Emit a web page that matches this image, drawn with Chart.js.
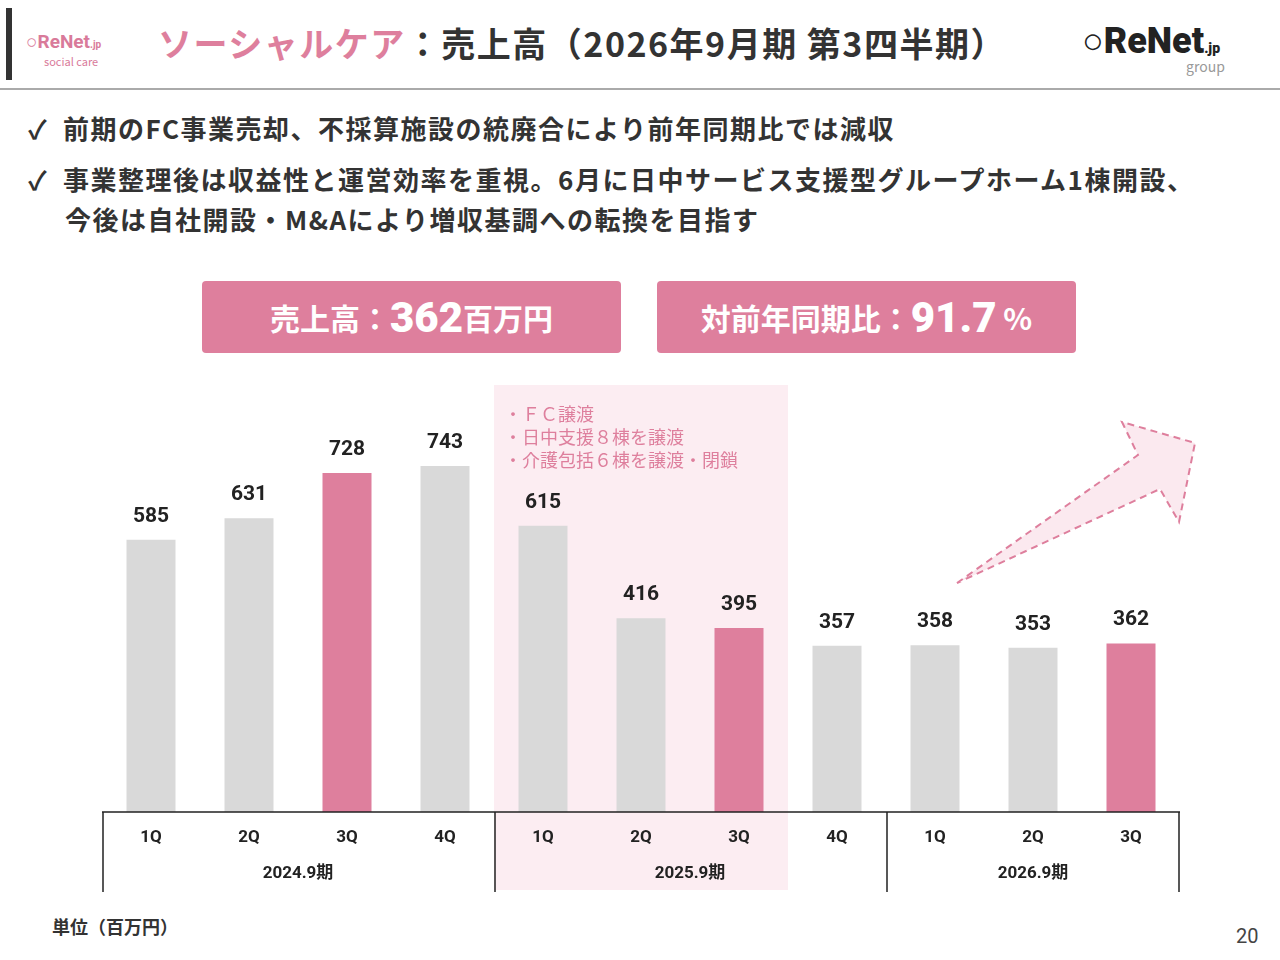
<!DOCTYPE html>
<html><head><meta charset="utf-8">
<script src="https://cdn.jsdelivr.net/npm/chart.js@4"></script>
<style>
body{margin:0;width:1280px;height:960px;position:relative;background:#fff;font-family:"Noto Sans CJK JP","Noto Sans",sans-serif;color:#333;overflow:hidden}
.abs{position:absolute}
.box{position:absolute;top:281px;height:72px;background:#de7f9d;border-radius:4px;color:#fff;font-weight:bold;font-size:30px;display:flex;align-items:center;justify-content:center}
.box b{font-family:Roboto,sans-serif;font-size:42px}
.bul{position:absolute;left:28px;font-size:26px;font-weight:bold;line-height:40px;letter-spacing:1.5px;white-space:nowrap}
</style></head><body>
<div class="abs" style="left:6px;top:8px;width:6px;height:72px;background:#333"></div>
<div class="abs" style="left:26px;top:30px;font-family:Roboto;font-weight:bold;color:#d97a9a;font-size:19px">&#x25CB;ReNet<span style="font-size:10px">.jp</span></div>
<div class="abs" style="left:44px;top:53px;color:#d97a9a;font-size:11px">social care</div>
<div class="abs" style="left:158px;top:18px;font-size:34px;font-weight:bold;white-space:nowrap;letter-spacing:1.5px"><span style="color:#de7f9d">ソーシャルケア</span>：売上高（2026年9月期 第3四半期）</div>
<div class="abs" style="left:1082px;top:20px;font-family:Roboto;font-weight:900;font-size:36px;color:#222">&#x25CB;ReNet<span style="font-size:14px">.jp</span></div>
<div class="abs" style="left:1186px;top:56px;font-size:14px;color:#999">group</div>
<div class="abs" style="left:0;top:88px;width:1280px;height:2px;background:#aaa"></div>
<div class="bul" style="top:108px">✓&nbsp;&nbsp;前期のFC事業売却、不採算施設の統廃合により前年同期比では減収</div>
<div class="bul" style="top:159px">✓&nbsp;&nbsp;事業整理後は収益性と運営効率を重視。6月に日中サービス支援型グループホーム1棟開設、<br>&nbsp;&nbsp;&nbsp;&nbsp;&nbsp;今後は自社開設・M&amp;Aにより増収基調への転換を目指す</div>
<div class="box" style="left:202px;width:419px">売上高：<b>362</b>百万円</div>
<div class="box" style="left:657px;width:419px">対前年同期比：<b>91.7</b>&nbsp;%</div>
<div class="abs" style="left:52px;top:913px;font-size:18px;font-weight:bold">単位（百万円）</div>
<div class="abs" style="left:1236px;top:924px;font-size:20px;font-family:Roboto;color:#444">20</div>
<svg class="abs" style="left:0;top:0" width="1280" height="960">
<polygon points="957,583 1138,455 1122,422 1195,443 1179,522 1160,489" fill="#fbe9ef" stroke="#de7f9d" stroke-width="2" stroke-dasharray="7,5"/>
</svg>
<div class="abs" style="left:102px;top:380px;width:1078px;height:512px"><canvas id="c"></canvas></div>
<script>
const quarters=['1Q','2Q','3Q','4Q','1Q','2Q','3Q','4Q','1Q','2Q','3Q'];
const sales=[585,631,728,743,615,416,395,357,358,353,362];
const highlight=[2,6,10];
const periods=['2024.9期','2025.9期','2026.9期'];
const notes=['・ＦＣ譲渡','・日中支援８棟を譲渡','・介護包括６棟を譲渡・閉鎖'];
const pink='#de7f9d', grey='#d9d9d9';
const deco={id:'deco',
 beforeDraw(ch){const {ctx,scales:{x}}=ch;const w=x.getPixelForValue(1)-x.getPixelForValue(0);
  ctx.save();ctx.fillStyle='#fcedf2';const l=x.getPixelForValue(4)-w/2,r=x.getPixelForValue(6)+w/2;
  ctx.fillRect(l,5,r-l,ch.height-7);
  ctx.fillStyle=pink;ctx.font='18px "Noto Sans CJK JP"';notes.forEach((n,i)=>ctx.fillText(n,l+10,41+i*23));ctx.restore();},
 afterDatasetsDraw(ch){const {ctx,scales:{x,y},chartArea:a}=ch;const w=x.getPixelForValue(1)-x.getPixelForValue(0);
  ctx.save();ctx.strokeStyle='#222';ctx.lineWidth=1.5;ctx.beginPath();ctx.moveTo(a.left,a.bottom);ctx.lineTo(a.right,a.bottom);
  [0,4,8,11].forEach(i=>{const px=Math.round(x.getPixelForValue(i)-w/2)+(i==11?-1:1);ctx.moveTo(px,a.bottom);ctx.lineTo(px,ch.height);});
  ctx.stroke();ctx.fillStyle='#222';ctx.font='bold 17px Roboto, "Noto Sans CJK JP"';ctx.textAlign='center';
  [[0,3],[4,7],[8,10]].forEach((g,i)=>ctx.fillText(periods[i],(x.getPixelForValue(g[0])+x.getPixelForValue(g[1]))/2,a.bottom+66));
  ctx.font='bold 21px Roboto';ch.getDatasetMeta(0).data.forEach((b,i)=>ctx.fillText(sales[i],b.x,b.y-18));ctx.restore();}};
new Chart(document.getElementById('c'),{type:'bar',
 data:{labels:quarters,datasets:[{data:sales,backgroundColor:sales.map((v,i)=>highlight.includes(i)?pink:grey),barPercentage:0.5,categoryPercentage:1}]},
 options:{responsive:true,maintainAspectRatio:false,animation:false,layout:{padding:0},
  plugins:{legend:{display:false},tooltip:{enabled:false}},
  scales:{y:{display:false,min:0,max:928},
   x:{afterFit(s){s.height=80;},grid:{display:false},border:{display:false},ticks:{color:'#222',padding:8,font:{family:'Roboto',weight:'bold',size:17}}}}},
 plugins:[deco]});
</script></body></html>
